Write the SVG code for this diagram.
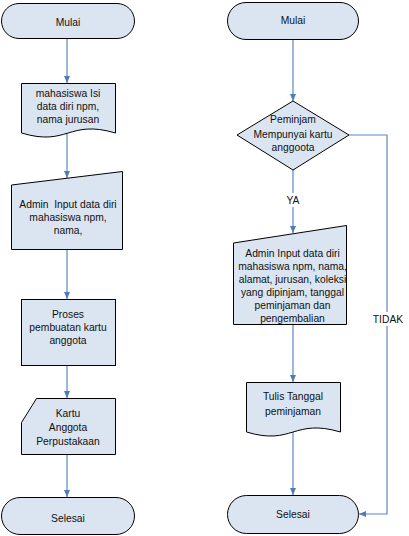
<svg xmlns="http://www.w3.org/2000/svg" width="409" height="536" viewBox="0 0 409 536">
<defs>
<marker id="ah" markerUnits="userSpaceOnUse" markerWidth="8" markerHeight="7" refX="7" refY="3" orient="auto">
<path d="M0,0 L7,3 L0,6 z" fill="#4f7cb8"/>
</marker>
<style>
.s{fill:#dbe5f1;stroke:#000;stroke-width:1}
.t{font-family:"Liberation Sans",Arial,sans-serif;font-size:10.3px;fill:#111;text-anchor:middle}
.c{fill:none;stroke:#5f87c0;stroke-width:1.2;marker-end:url(#ah)}
</style>
</defs>
<rect width="409" height="536" fill="#fff"/>
<g id="connectors">
<path class="c" d="M67,38 V83"/>
<path class="c" d="M67,133 V178"/>
<path class="c" d="M67,249 V299"/>
<path class="c" d="M67,365 V398"/>
<path class="c" d="M67,454 V497"/>
<path class="c" d="M293,39 V101"/>
<path class="c" d="M293,170 V233"/>
<path class="c" d="M293,324 V382"/>
<path class="c" d="M293,432 V495"/>
<path class="c" d="M349,135 H387 V514 H359"/>
<rect x="282" y="193" width="22" height="14" fill="#fff"/>
<text class="t" x="293" y="204">YA</text>
<rect x="372" y="312" width="32" height="14" fill="#fff"/>
<text class="t" x="388" y="323">TIDAK</text>
</g>
<g id="mulai1">
<rect class="s" x="1.5" y="3.5" width="133" height="35" rx="17.5"/>
<text class="t" x="68" y="26">Mulai</text>
</g>
<g id="doc1">
<path class="s" d="M21.5,83.5 H115.5 V133 C68,119 68,147 21.5,133 Z"/>
<text class="t" x="68" y="97">mahasiswa Isi</text>
<text class="t" x="68" y="110">data diri npm,</text>
<text class="t" x="68" y="123">nama jurusan</text>
</g>
<g id="input1">
<path class="s" d="M11.5,185 L122.5,171.5 V249.5 H11.5 Z"/>
<text class="t" x="68" y="208" xml:space="preserve">Admin  Input data diri</text>
<text class="t" x="68" y="221">mahasiswa npm,</text>
<text class="t" x="68" y="234">nama,</text>
</g>
<g id="proses">
<rect class="s" x="21.5" y="299.5" width="94" height="66"/>
<text class="t" x="68" y="318">Proses</text>
<text class="t" x="68" y="331">pembuatan kartu</text>
<text class="t" x="68" y="344">anggota</text>
</g>
<g id="kartu">
<path class="s" d="M36.5,398.5 H115.5 V454.5 H21.5 V422.5 Z"/>
<text class="t" x="68" y="417">Kartu</text>
<text class="t" x="68" y="431">Anggota</text>
<text class="t" x="68" y="445">Perpustakaan</text>
</g>
<g id="selesai1">
<rect class="s" x="1.5" y="497.5" width="133" height="37" rx="18.5"/>
<text class="t" x="68" y="522">Selesai</text>
</g>
<g id="mulai2">
<rect class="s" x="227.5" y="2.5" width="131" height="37" rx="18.5"/>
<text class="t" x="293" y="24">Mulai</text>
</g>
<g id="decision">
<path class="s" d="M293,101 L349,135 L293,170 L237,135 Z"/>
<text class="t" x="293" y="123">Peminjam</text>
<text class="t" x="293" y="138">Mempunyai kartu</text>
<text class="t" x="293" y="151">anggoota</text>
</g>
<g id="input2">
<path class="s" d="M233.5,243 L346.5,225.5 V324.5 H233.5 Z"/>
<text class="t" x="292.5" y="257">Admin Input data diri</text>
<text class="t" x="292.5" y="270">mahasiswa npm, nama,</text>
<text class="t" x="292.5" y="283">alamat, jurusan, koleksi</text>
<text class="t" x="292.5" y="296">yang dipinjam, tanggal</text>
<text class="t" x="292.5" y="309">peminjaman dan</text>
<text class="t" x="292.5" y="322">pengembalian</text>
</g>
<g id="tulis">
<path class="s" d="M246.5,382.5 H340.5 V432 C293,418 293,446 246.5,432 Z"/>
<text class="t" x="293" y="400">Tulis Tanggal</text>
<text class="t" x="293" y="415">peminjaman</text>
</g>
<g id="selesai2">
<rect class="s" x="227.5" y="495.5" width="131" height="38" rx="19"/>
<text class="t" x="293" y="518">Selesai</text>
</g>
</svg>
